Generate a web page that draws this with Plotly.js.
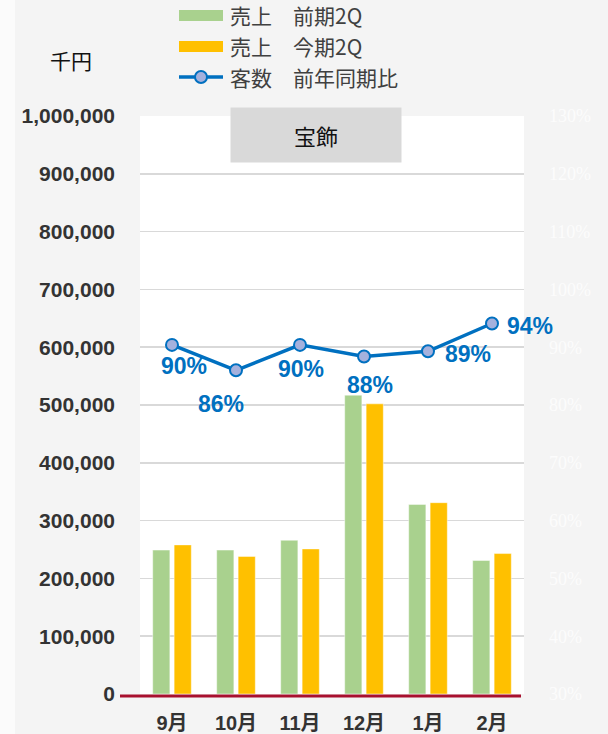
<!DOCTYPE html>
<html>
<head>
<meta charset="utf-8">
<script src="https://cdn.plot.ly/plotly-3.0.1.min.js"></script>
<style>html,body{margin:0;padding:0;background:#f4f4f4;}#chart{width:608px;height:734px;}</style>
</head>
<body>
<div id="chart"></div>
<script>
// ---- data ----
const months = ['9月', '10月', '11月', '12月', '1月', '2月'];
const salesPrev = [249000, 249000, 266000, 517000, 328000, 231000];
const salesCurr = [258000, 238000, 251000, 502000, 331000, 243000];
const customerRatio = [90.4, 86.0, 90.4, 88.4, 89.3, 94.1];
const seriesNames = ['売上　前期2Q', '売上　今期2Q', '客数　前年同期比'];
const unitLabel = '千円';
const panelTitle = '宝飾';

// ---- layout geometry (pixels) ----
const W = 608, H = 734;
const M = {l: 140, r: 84, t: 116, b: 40};
const PW = W - M.l - M.r, PH = H - M.t - M.b;
const px = x => (x - M.l) / PW;
const py = y => (H - M.b - y) / PH;

// label offsets (styling, screen pixels: +x right, +y down) for ratio labels
const labOffX = [12, -15, 1, 6, 40, 38];
const labOffY = [21, 34, 24, 29, 3, 2];

const GREEN = '#A9D18E', YELLOW = '#FFC000', BLUE = '#0070C0';
const SANS = 'Liberation Sans, Arial, Noto Sans CJK JP, sans-serif';
const CJK = 'Noto Sans CJK JP, sans-serif';

const traces = [
  {type: 'bar', x: months, y: salesPrev, name: seriesNames[0],
   marker: {color: GREEN, line: {color: 'rgba(255,255,255,0.45)', width: 1}}, yaxis: 'y'},
  {type: 'bar', x: months, y: salesCurr, name: seriesNames[1],
   marker: {color: YELLOW, line: {color: 'rgba(255,255,255,0.45)', width: 1}}, yaxis: 'y'},
  {type: 'scatter', mode: 'lines+markers', x: months, y: customerRatio, name: seriesNames[2],
   yaxis: 'y2', line: {color: BLUE, width: 3.5},
   marker: {size: 12, color: '#A5B1DD', line: {color: BLUE, width: 2}}}
];

const annotations = [];
customerRatio.forEach((v, i) => {
  annotations.push({x: months[i], y: v, xref: 'x', yref: 'y2', text: Math.round(v) + '%',
    showarrow: false, xanchor: 'center', yanchor: 'middle',
    xshift: labOffX[i], yshift: -labOffY[i],
    font: {family: SANS, size: 23, color: BLUE, weight: 'bold'}});
});

// legend (manual)
const legY = [15, 46, 77];
seriesNames.forEach((n, i) => {
  annotations.push({xref: 'paper', yref: 'paper', x: px(229), y: py(legY[i]), xanchor: 'left', yanchor: 'middle',
    text: n, showarrow: false, borderpad: 0, font: {family: CJK, size: 21, color: '#404040'}});
});
annotations.push({xref: 'paper', yref: 'paper', x: px(71), y: py(60), xanchor: 'center', yanchor: 'middle',
  text: unitLabel, showarrow: false, font: {family: CJK, size: 21, color: '#111111'}});
annotations.push({xref: 'paper', yref: 'paper', x: px(316), y: py(135), xanchor: 'center', yanchor: 'middle',
  text: panelTitle, showarrow: false, bgcolor: '#D9D9D9', width: 168, height: 52, valign: 'middle',
  font: {family: CJK, size: 22, color: '#111111'}});

const shapes = [
  {type: 'rect', xref: 'paper', yref: 'paper', x0: px(0), x1: px(15), y0: py(H), y1: py(0),
   fillcolor: '#fbfbfb', line: {width: 0}, layer: 'below'},
  {type: 'rect', xref: 'paper', yref: 'paper', x0: px(179), x1: px(223), y0: py(21), y1: py(10),
   fillcolor: GREEN, line: {width: 0}},
  {type: 'rect', xref: 'paper', yref: 'paper', x0: px(179), x1: px(223), y0: py(52), y1: py(41),
   fillcolor: YELLOW, line: {width: 0}},
  {type: 'line', xref: 'paper', yref: 'paper', x0: px(179), x1: px(223), y0: py(77), y1: py(77),
   line: {color: BLUE, width: 3.5}},
  {type: 'circle', xref: 'paper', yref: 'paper', x0: px(195), x1: px(207), y0: py(83), y1: py(71),
   fillcolor: '#A5B1DD', line: {color: BLUE, width: 2}},
  {type: 'line', xref: 'paper', yref: 'paper', x0: px(120), x1: px(521), y0: py(696), y1: py(696),
   line: {color: '#A8102E', width: 3}, layer: 'above'}
];

const layout = {
  width: W, height: H,
  margin: M,
  paper_bgcolor: '#f4f4f4', plot_bgcolor: '#ffffff',
  showlegend: false,
  barmode: 'group', bargap: 0.33, bargroupgap: 0.2,
  font: {family: SANS},
  xaxis: {type: 'category', range: [-0.5, months.length - 0.5], autorange: false,
    showgrid: false, zeroline: false, showline: false, ticks: '',
    tickfont: {family: SANS, size: 20, color: '#333333', weight: 'bold'}, ticklabelstandoff: 15},
  yaxis: {range: [0, 1000000], autorange: false, dtick: 100000, tickformat: ',d', showgrid: true,
    gridcolor: '#d9d9d9', gridwidth: 1.5, zeroline: false, showline: false, ticks: '',
    ticklabelstandoff: 24, tickfont: {family: SANS, size: 21, color: '#333333', weight: 'bold'}},
  yaxis2: {overlaying: 'y', side: 'right', range: [30, 130], autorange: false, dtick: 10, ticksuffix: '%',
    showgrid: false, zeroline: false, showline: false, ticks: '', ticklabelstandoff: 24,
    tickfont: {family: 'Liberation Serif, Times New Roman, serif', size: 18, color: '#fcfcfc'}},
  annotations: annotations,
  shapes: shapes
};

Plotly.newPlot('chart', traces, layout, {displayModeBar: false, staticPlot: true});
</script>
</body>
</html>
